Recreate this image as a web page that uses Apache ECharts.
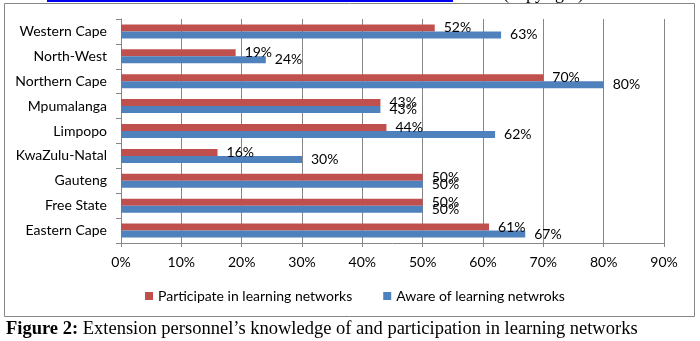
<!DOCTYPE html>
<html>
<head>
<meta charset="utf-8">
<script src="https://cdn.jsdelivr.net/npm/echarts@6/dist/echarts.min.js"></script>
<style>
  html, body { margin: 0; padding: 0; background: #fff; }
  #chart { width: 700px; height: 341px; }
</style>
</head>
<body>
<div id="chart"></div>
<script>
// provinces, bottom to top as drawn
const provinces = ['Eastern Cape', 'Free State', 'Gauteng', 'KwaZulu-Natal', 'Limpopo',
  'Mpumalanga', 'Northern Cape', 'North-West', 'Western Cape'];
const participate = [61, 50, 50, 16, 44, 43, 70, 19, 52];
const aware = [67, 50, 50, 30, 62, 43, 80, 24, 63];
const xTicks = [0, 10, 20, 30, 40, 50, 60, 70, 80, 90];

const RED = '#C0504D';
const BLUE = '#4F81BD';
const GRID_GRAY = '#868686';
const FONT = 'Lato';

const chart = echarts.init(document.getElementById('chart'));

const barLabel = {
  show: true,
  position: 'right',
  distance: 9,
  formatter: '{c}%',
  color: '#000',
  fontFamily: FONT,
  fontSize: 14
};

const option = {
  backgroundColor: '#fff',
  animation: false,
  grid: { left: 121, right: 36, top: 19, bottom: 98 },
  legend: {
    data: ['Participate in learning networks', 'Aware of learning netwroks'],
    left: 140,
    top: 284,
    itemWidth: 8,
    itemHeight: 8,
    itemGap: 31,
    icon: 'rect',
    textStyle: { fontFamily: FONT, fontSize: 14, color: '#000' }
  },
  xAxis: {
    type: 'value',
    min: xTicks[0],
    max: xTicks[xTicks.length - 1],
    interval: 10,
    axisLine: { show: true, lineStyle: { color: GRID_GRAY } },
    axisTick: { show: true, length: 4, lineStyle: { color: GRID_GRAY } },
    axisLabel: { formatter: '{value}%', color: '#000', fontFamily: FONT, fontSize: 14, margin: 12 },
    splitLine: { show: true, lineStyle: { color: GRID_GRAY, width: 1 } }
  },
  yAxis: {
    type: 'category',
    data: provinces,
    axisLine: { show: true, lineStyle: { color: GRID_GRAY } },
    axisTick: { show: true, length: 5, lineStyle: { color: GRID_GRAY } },
    axisLabel: { color: '#000', fontFamily: FONT, fontSize: 14, margin: 14 },
    splitLine: { show: false }
  },
  series: [
    {
      name: 'Participate in learning networks',
      type: 'bar',
      data: participate,
      barWidth: 7,
      barGap: '0%',
      itemStyle: { color: RED },
      label: barLabel
    },
    {
      name: 'Aware of learning netwroks',
      type: 'bar',
      data: aware,
      barWidth: 7,
      barGap: '0%',
      itemStyle: { color: BLUE },
      label: barLabel
    }
  ],
  graphic: [
    // chart frame
    { type: 'rect', shape: { x: 4.5, y: 3.5, width: 690, height: 313 },
      style: { fill: null, stroke: GRID_GRAY, lineWidth: 1 }, z: -1 },
    // cut-off link underline and text at the very top
    { type: 'line', shape: { x1: 47, y1: 1, x2: 453, y2: 1 },
      style: { stroke: '#0000EE', lineWidth: 2 } },
    { type: 'text', left: 503, top: -15,
      style: { text: '(copyright)', font: '18px "Liberation Serif"', fill: '#000' } },
    // figure caption
    { type: 'text', left: 6, top: 320,
      style: {
        text: '{b|Figure 2:} Extension personnel’s knowledge of and participation in learning networks',
        font: '18.5px "Liberation Serif"',
        fill: '#000',
        rich: { b: { fontWeight: 'bold', fontFamily: 'Liberation Serif', fontSize: 18.5 } }
      } }
  ]
};

chart.setOption(option);
</script>
</body>
</html>
